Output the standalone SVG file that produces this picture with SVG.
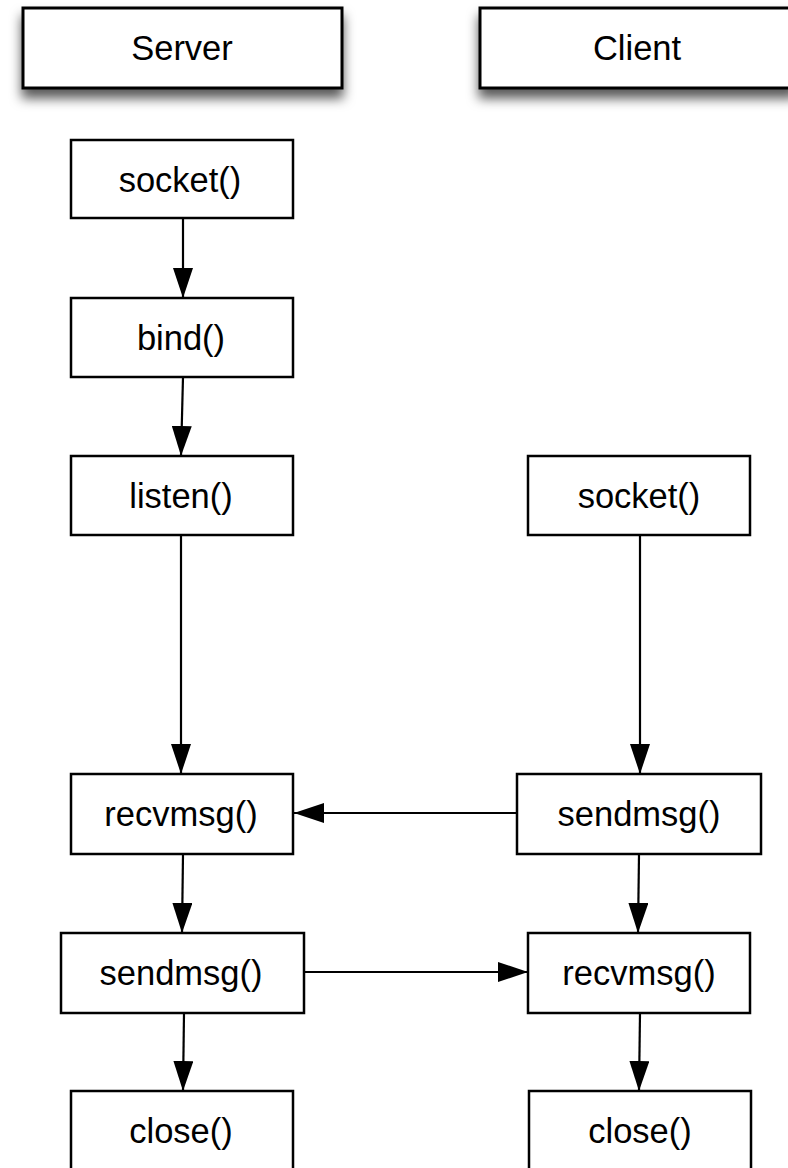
<svg xmlns="http://www.w3.org/2000/svg" width="788" height="1168" viewBox="0 0 788 1168">
  <style>
    .box { fill: #ffffff; stroke: #000000; stroke-width: 2.5; }
    .head { fill: #ffffff; stroke: #000000; stroke-width: 3; filter: url(#shadow); }
    .lbl { font-family: "Liberation Sans", Arial, sans-serif; font-size: 34.5px; fill: #000000; text-anchor: middle; }
    .edge { fill: none; stroke: #000000; stroke-width: 2.2; marker-end: url(#arrow); }
  </style>
  <defs>
    <filter id="shadow" x="-10%" y="-20%" width="120%" height="170%">
      <feDropShadow dx="0" dy="9" stdDeviation="6" flood-color="#000000" flood-opacity="0.65"/>
    </filter>
    <marker id="arrow" markerUnits="userSpaceOnUse" markerWidth="30" markerHeight="20" refX="30" refY="10" orient="auto">
      <path d="M0,0 L30,10 L0,20 Z" fill="#000000"/>
    </marker>
  </defs>
  <rect width="788" height="1168" fill="#ffffff"/>

  <!-- lane headers -->
  <g id="server-header">
    <rect class="head" x="23" y="8" width="319" height="80"/>
    <text class="lbl" x="182" y="60">Server</text>
  </g>
  <g id="client-header">
    <rect class="head" x="480" y="8" width="315" height="80"/>
    <text class="lbl" x="637" y="60">Client</text>
  </g>

  <!-- server side -->
  <g id="s-socket">
    <rect class="box" x="71" y="140" width="222" height="78"/>
    <text class="lbl" x="180" y="192">socket()</text>
  </g>
  <g id="s-bind">
    <rect class="box" x="71" y="298" width="222" height="79"/>
    <text class="lbl" x="181" y="350">bind()</text>
  </g>
  <g id="s-listen">
    <rect class="box" x="71" y="456" width="222" height="79"/>
    <text class="lbl" x="181" y="508">listen()</text>
  </g>
  <g id="s-recvmsg">
    <rect class="box" x="71" y="774" width="222" height="80"/>
    <text class="lbl" x="181" y="826">recvmsg()</text>
  </g>
  <g id="s-sendmsg">
    <rect class="box" x="61" y="933" width="243" height="80"/>
    <text class="lbl" x="181" y="985">sendmsg()</text>
  </g>
  <g id="s-close">
    <rect class="box" x="71" y="1091" width="222" height="80"/>
    <text class="lbl" x="181" y="1143">close()</text>
  </g>

  <!-- client side -->
  <g id="c-socket">
    <rect class="box" x="528" y="456" width="222" height="79"/>
    <text class="lbl" x="639" y="508">socket()</text>
  </g>
  <g id="c-sendmsg">
    <rect class="box" x="517" y="774" width="244" height="80"/>
    <text class="lbl" x="639" y="826">sendmsg()</text>
  </g>
  <g id="c-recvmsg">
    <rect class="box" x="528" y="933" width="222" height="80"/>
    <text class="lbl" x="639" y="985">recvmsg()</text>
  </g>
  <g id="c-close">
    <rect class="box" x="529" y="1091" width="222" height="80"/>
    <text class="lbl" x="640" y="1143">close()</text>
  </g>

  <!-- connectors -->
  <g id="connectors">
    <line class="edge" x1="183" y1="218" x2="183" y2="298"/>
    <line class="edge" x1="183" y1="377" x2="181" y2="456"/>
    <line class="edge" x1="181" y1="535" x2="181" y2="774"/>
    <line class="edge" x1="183" y1="854" x2="182" y2="933"/>
    <line class="edge" x1="184" y1="1013" x2="183" y2="1091"/>
    <line class="edge" x1="640" y1="535" x2="640" y2="774"/>
    <line class="edge" x1="639" y1="854" x2="638" y2="933"/>
    <line class="edge" x1="640" y1="1013" x2="639" y2="1091"/>
    <line class="edge" x1="517" y1="813" x2="294" y2="813"/>
    <line class="edge" x1="304" y1="972" x2="528" y2="972"/>
  </g>
</svg>
